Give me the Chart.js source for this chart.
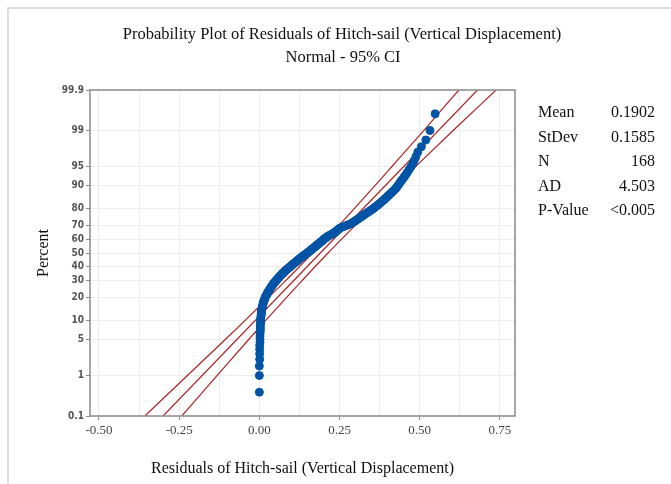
<!DOCTYPE html>
<html>
<head>
  <meta charset="utf-8">
  <title>Probability Plot of Residuals</title>
  <script src="https://cdn.jsdelivr.net/npm/chart.js"></script>
  <style>
    body { margin: 0; padding: 0; background: #fff; }
    canvas { display: block; }
  </style>
</head>
<body>
  <canvas id="myChart" width="671" height="484"></canvas>

  <script>
    // sorted residuals (n = 168)
    const residuals = [
      0.000, 0.000, 0.000, 0.001, 0.001, 0.001, 0.001, 0.002, 0.002, 0.002,
      0.002, 0.003, 0.003, 0.003, 0.003, 0.004, 0.004, 0.004, 0.005, 0.005,
      0.006, 0.006, 0.007, 0.007, 0.008, 0.009, 0.010, 0.011, 0.012, 0.013,
      0.014, 0.016, 0.017, 0.018, 0.020, 0.022, 0.024, 0.025, 0.027, 0.029,
      0.031, 0.033, 0.035, 0.037, 0.039, 0.041, 0.043, 0.045, 0.048, 0.050,
      0.052, 0.055, 0.057, 0.060, 0.062, 0.065, 0.067, 0.070, 0.072, 0.075,
      0.078, 0.080, 0.083, 0.086, 0.089, 0.092, 0.095, 0.098, 0.101, 0.104,
      0.107, 0.110, 0.113, 0.116, 0.119, 0.122, 0.125, 0.128, 0.131, 0.134,
      0.137, 0.141, 0.144, 0.148, 0.151, 0.154, 0.157, 0.160, 0.163, 0.166,
      0.169, 0.172, 0.175, 0.178, 0.181, 0.184, 0.187, 0.190, 0.193, 0.196,
      0.199, 0.202, 0.205, 0.209, 0.212, 0.216, 0.221, 0.226, 0.230, 0.235,
      0.238, 0.241, 0.244, 0.248, 0.251, 0.257, 0.264, 0.271, 0.278, 0.285,
      0.290, 0.294, 0.299, 0.303, 0.308, 0.312, 0.317, 0.321, 0.326, 0.330,
      0.335, 0.340, 0.345, 0.350, 0.355, 0.359, 0.364, 0.369, 0.373, 0.378,
      0.382, 0.387, 0.391, 0.396, 0.400, 0.405, 0.410, 0.415, 0.420, 0.425,
      0.429, 0.433, 0.437, 0.441, 0.446, 0.451, 0.456, 0.461, 0.466, 0.472,
      0.478, 0.483, 0.488, 0.494, 0.505, 0.519, 0.532, 0.548
    ];

    // fitted line and 95% CI band (percent -> residual)
    const fitPercents = [0.1, 50, 99.9];
    const fitValues = [-0.300, 0.190, 0.680];
    const bandPercents = [0.1, 1, 5, 10, 20, 30, 50, 70, 80, 90, 95, 99, 99.9];
    const bandLower = [-0.357, -0.225, -0.107, -0.045, 0.029, 0.082, 0.166, 0.248, 0.296, 0.361, 0.414, 0.513, 0.622];
    const bandUpper = [-0.242, -0.132, -0.034, 0.019, 0.085, 0.133, 0.214, 0.299, 0.352, 0.426, 0.488, 0.605, 0.738];

    const yTickPercents = [0.1, 1, 5, 10, 20, 30, 40, 50, 60, 70, 80, 90, 95, 99, 99.9];
    const yTickLabels = ['0.1', '1', '5', '10', '20', '30', '40', '50', '60', '70', '80', '90', '95', '99', '99.9'];
    const xGridValues = [-0.5, -0.375, -0.25, -0.125, 0, 0.125, 0.25, 0.375, 0.5, 0.625, 0.75];
    const xTickValues = [-0.5, -0.25, 0, 0.25, 0.5, 0.75];
    const xTickLabels = ['-0.50', '-0.25', '0.00', '0.25', '0.50', '0.75'];

    const statNames = ['Mean', 'StDev', 'N', 'AD', 'P-Value'];
    const statValues = ['0.1902', '0.1585', '168', '4.503', '<0.005'];

    // inverse normal cdf (Acklam)
    function probit(p) {
      const a = [-39.69683028665376, 220.9460984245205, -275.9285104469687, 138.3577518672690, -30.66479806614716, 2.506628277459239];
      const b = [-54.47609879822406, 161.5858368580409, -155.6989798598866, 66.80131188771972, -13.28068155288572];
      const c = [-0.007784894002430293, -0.3223964580411365, -2.400758277161838, -2.549732539343734, 4.374664141464968, 2.938163982698783];
      const d = [0.007784695709041462, 0.3224671290700398, 2.445134137142996, 3.754408661907416];
      const pl = 0.02425;
      let q, r;
      if (p < pl) {
        q = Math.sqrt(-2 * Math.log(p));
        return (((((c[0]*q+c[1])*q+c[2])*q+c[3])*q+c[4])*q+c[5]) / ((((d[0]*q+d[1])*q+d[2])*q+d[3])*q+1);
      } else if (p <= 1 - pl) {
        q = p - 0.5; r = q * q;
        return (((((a[0]*r+a[1])*r+a[2])*r+a[3])*r+a[4])*r+a[5])*q / (((((b[0]*r+b[1])*r+b[2])*r+b[3])*r+b[4])*r+1);
      } else {
        q = Math.sqrt(-2 * Math.log(1 - p));
        return -(((((c[0]*q+c[1])*q+c[2])*q+c[3])*q+c[4])*q+c[5]) / ((((d[0]*q+d[1])*q+d[2])*q+d[3])*q+1);
      }
    }
    const z = pct => probit(pct / 100);

    const n = residuals.length;
    const points = residuals.map((v, i) => ({ x: v, y: probit((i + 1 - 0.3) / (n + 0.4)) }));
    const fitLine = fitPercents.map((p, i) => ({ x: fitValues[i], y: z(p) }));
    const lowLine = bandPercents.map((p, i) => ({ x: bandLower[i], y: z(p) }));
    const upLine = bandPercents.map((p, i) => ({ x: bandUpper[i], y: z(p) }));

    const red = 'rgb(170, 36, 36)';
    const blue = 'rgb(0, 84, 166)';
    const serif = '"Liberation Serif", "Times New Roman", serif';

    // titles, stats table, frame and plot border
    const decor = {
      id: 'decor',
      afterDraw(chart) {
        const c = chart.ctx;
        const a = chart.chartArea;
        c.save();
        c.strokeStyle = '#dcdcdc';
        c.lineWidth = 2;
        c.beginPath();
        c.moveTo(8, 484); c.lineTo(8, 8); c.lineTo(671, 8);
        c.stroke();

        c.strokeStyle = '#8a8a8a';
        c.lineWidth = 1.5;
        c.strokeRect(a.left, a.top, a.right - a.left, a.bottom - a.top);

        c.fillStyle = '#111';
        c.textAlign = 'center';
        c.textBaseline = 'middle';
        c.font = '16.5px ' + serif;
        c.fillText('Probability Plot of Residuals of Hitch-sail (Vertical Displacement)', 342, 35);
        c.fillText('Normal - 95% CI', 343, 58);

        c.font = '16px ' + serif;
        c.fillText('Residuals of Hitch-sail (Vertical Displacement)', (a.left + a.right) / 2, 469);
        c.save();
        c.translate(44, (a.top + a.bottom) / 2);
        c.rotate(-Math.PI / 2);
        c.fillText('Percent', 0, 0);
        c.restore();

        c.font = '16px ' + serif;
        statNames.forEach((s, i) => {
          const y = 113 + i * 24.5;
          c.textAlign = 'left';
          c.fillText(s, 538, y);
          c.textAlign = 'right';
          c.fillText(statValues[i], 655, y);
        });
        c.restore();
      }
    };

    const lineStyle = { showLine: true, borderColor: red, backgroundColor: red, borderWidth: 1.2, pointRadius: 0 };

    const ctx = document.getElementById('myChart').getContext('2d');
    const chart = new Chart(ctx, {
      type: 'scatter',
      data: {
        datasets: [
          {
            label: 'Residuals',
            data: points,
            backgroundColor: blue,
            borderColor: blue,
            pointRadius: 4,
            pointHoverRadius: 4
          },
          Object.assign({ label: 'Fit', data: fitLine }, lineStyle),
          Object.assign({ label: 'Lower', data: lowLine, cubicInterpolationMode: 'monotone' }, lineStyle),
          Object.assign({ label: 'Upper', data: upLine, cubicInterpolationMode: 'monotone' }, lineStyle)
        ]
      },
      options: {
        responsive: false,
        animation: false,
        devicePixelRatio: 1,
        layout: { padding: { left: 0, top: 90, right: 156, bottom: 0 } },
        plugins: {
          legend: { display: false },
          tooltip: { enabled: false },
          title: { display: false }
        },
        scales: {
          x: {
            type: 'linear',
            min: -0.528,
            max: 0.797,
            afterBuildTicks: s => { s.ticks = xGridValues.map(v => ({ value: v })); },
            afterFit: s => { s.height = 68; },
            border: { display: false },
            grid: {
              color: '#ececec',
              tickLength: 4,
              tickColor: c => xTickValues.includes(c.tick && c.tick.value) ? '#8a8a8a' : 'rgba(0,0,0,0)'
            },
            ticks: {
              autoSkip: false,
              maxRotation: 0,
              padding: 3,
              color: '#444',
              font: { family: serif, size: 13 },
              callback: v => {
                const k = xTickValues.indexOf(v);
                return k >= 0 ? xTickLabels[k] : '';
              }
            }
          },
          y: {
            type: 'linear',
            min: z(0.1),
            max: z(99.9),
            afterBuildTicks: s => { s.ticks = yTickPercents.map(p => ({ value: z(p) })); },
            afterFit: s => { s.width = 90; },
            border: { display: false },
            grid: { color: '#ececec', tickLength: 4, tickColor: '#8a8a8a' },
            ticks: {
              autoSkip: false,
              padding: 2,
              color: '#555',
              font: { family: '"DejaVu Sans Condensed", "Open Sans", sans-serif', size: 10, weight: 'bold' },
              callback: (v, i) => yTickLabels[i]
            }
          }
        }
      },
      plugins: [decor]
    });
  </script>
</body>
</html>
